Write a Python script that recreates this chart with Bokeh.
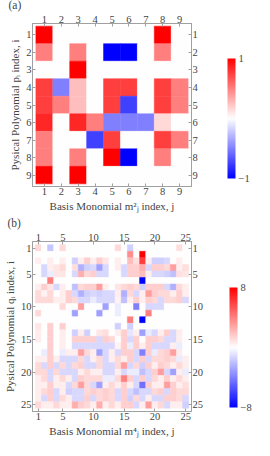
from bokeh.plotting import figure
from bokeh.models import (LinearColorMapper, ColorBar, FixedTicker, Range1d,
                          LinearAxis, Label, ColumnDataSource)
from bokeh.layouts import column
from bokeh.embed import file_html
from bokeh.resources import INLINE

# ---------------- data ----------------
ticks_a = [1, 2, 3, 4, 5, 6, 7, 8, 9]
matrix_a = [
    [1, 0, 0, 0, 0, 0, 0, 1, 0],
    [0.5, 0, 0.5, 0, -1, -1, 0, 0.5, 0],
    [0, 0, 1, 0, 0, 0, 0, 0, 0],
    [0.75, -0.5, 0.25, 0, 0.75, 0.75, 0, 0.75, 0.5],
    [0.75, 0.5, 0.25, 0, 0.75, -0.75, 0, 0.75, 0.5],
    [0.85, 0, 0.85, 0.5, -0.5, -0.5, -0.5, 0.15, 0],
    [0.5, 0, 0, -0.75, 0.75, 0, 0, 0.75, 0.5],
    [0.5, 0, 0.5, 0, 1, -1, 0, 0.5, 0],
    [1, 0, 1, 0, 0, 0, 0, 0, 0],
]

ticks_b = [1, 5, 10, 15, 20, 25]
matrix_b = [
    [1.2, 0, -1.8, 0, 1.2, 0, 0, 0, 0, 0, 0, 0, 0, 1.2, 0, -1.5, 0, 0, 0, 0, 0, 0, 0, 1.0, 0],
    [0, 0, 0, 0, 0, 0, 0, 0, 0, 0, 0, 0, 0, 0, 0, 3.5, 0, 8, 0, 0, 0, 0, 0, 0, 0],
    [0.5, 0, 0.5, 0, 0.5, 0, -1.5, 0.5, 1.5, 0.5, 1.5, 0.8, 0, 0.5, 0, 2.0, 1.0, 6.0, 0.5, -1.5, -1.5, -1.2, 0, 0.6, 0],
    [0, -1.2, 0.5, 0.8, 1.2, 0, 1.0, -2.5, -1.5, -1.2, -3.0, -1.2, 0, 0.5, -1.2, 1.5, 1.5, 2.5, -1.2, 1.5, 1.5, 1.2, 3.0, 0.5, 1.0],
    [0, -1.2, -0.6, 0.8, 0.8, 0, -1.2, 2.5, 1.2, 1.5, -1.2, -1.2, 0, 0, -1.2, 1.5, 1.5, 2.0, 0.5, -1.2, -1.2, -1.5, -2.0, 1.0, 0.8],
    [0, 0, 4.0, 0, 0, 0, 0, 0, 0, 0, 0, 0, 0, 0, 0, 0, 0, -8, 0, 0, 0, 0, 0, 0, 0],
    [0.5, 1.5, 0.8, -1.2, 0.5, 0, -2.0, 1.2, 1.5, 1.5, 3.0, 0.5, 0, 0.8, 1.2, 1.5, 1.2, -1.5, 1.5, 1.5, 1.5, -1.2, -2.5, 1.2, 0.5],
    [1.2, 0.4, 1.2, 0, 0.5, 1.5, -1.2, -2.5, -1.5, -1.2, -1.5, -1.2, -1.2, 0.5, -2.5, 1.2, -1.2, 0.5, 3.0, 1.5, 1.2, 1.2, 0.5, 1.5, 0.5],
    [1.2, 1.2, 1.2, 0.5, 0.5, 1.5, 1.2, -1.2, -1.2, -0.6, -1.2, -1.2, -1.2, 0.4, -2.0, 0.5, 1.5, 0.5, 1.5, 1.2, -1.2, 1.2, 1.2, 1.5, -1.2],
    [0, 0, 0, 0, 1.2, 0, 0, 3.0, 0, 0, 0, -3.0, 0, -0.6, 0, 0, -4.0, 0, -1.2, -1.2, -1.2, 0, 0, 0, 0],
    [1.2, 0, 0, 0, 0, 0, -3.0, 0, 0, 0, -3.0, 0, 0, -0.6, 0, 0, 0, 0, 4.0, 0, 0, 0, 0, 0, 0],
    [0, 0, 0, 0, 0, 0, 0, 0, 0, 0, 0, 0, 0, 0, 0, 4.0, 0, -8, 0, 0, 0, 0, 0, 0, 0],
    [0.8, 0, 1.5, 0, 1.5, 0, 0, 0, 0, 0, 0, 0, 0, -1.5, 0, -1.5, 0, 0, 0, 0, 0, 0, 0, 0, 0],
    [0.6, 0, 1.5, 0, 0.6, 0, -1.5, 0.5, -1.5, 0, 0.8, 1.0, 0, 0.5, 1.5, -0.8, 0.5, -3.0, -0.6, -1.2, 0.5, 1.5, -1.2, 0.6, 0],
    [0.6, 0, 1.5, 0, 0.5, 0, 1.5, 1.5, 1.5, 1.5, -1.2, 1.5, 1.2, 0, 1.5, -1.2, 1.5, 0, 1.5, 1.5, 1.2, -1.2, -1.2, 0.5, 0],
    [0, 0, 1.5, 0, 0.5, 0, -1.2, -1.2, -1.2, -1.2, -1.2, -1.2, -1.2, 0.4, 1.5, -0.6, 1.5, 0.5, 1.5, -1.2, -1.2, -1.2, 0.5, -0.6, 0],
    [0, -0.6, 1.5, 0, -0.6, 0.5, 0.5, 3.0, 1.2, 0.5, -3.0, -1.2, 0.5, -1.2, 1.5, 1.5, -1.2, -4.0, 1.5, -0.6, 1.2, 1.5, 3.0, 0.6, 0],
    [0.5, 0.5, 1.5, 0.5, -1.2, -1.2, -1.2, 1.2, -1.2, 0.5, 1.2, -1.2, 0.5, 1.2, 0.5, 1.5, -1.2, 1.5, -1.2, 1.2, 1.2, 1.5, 1.2, -0.6, 0.5],
    [1.2, -1.2, 1.5, -1.2, 1.2, -1.2, 1.2, 1.5, -1.2, -1.2, 1.2, -1.2, -1.2, 1.2, 3.0, -1.2, 1.2, -1.5, 1.5, 0.5, 1.5, 1.2, 0.5, 1.2, 0.5],
    [1.2, 1.2, -1.2, 1.2, -1.2, -1.2, -1.2, 0.5, 1.2, 0.5, 0.5, -1.2, -1.2, 0.5, -1.2, -0.6, -0.6, -2.0, -1.2, 1.5, 3.0, -1.2, -3.0, 0.5, -0.6],
    [0.5, 1.2, -1.2, 0.5, 1.2, 0.5, -1.2, 1.5, 1.2, 1.2, 1.2, -0.6, -0.6, 1.2, 4.0, 1.5, -1.2, 1.5, -1.2, 1.2, 0.5, 1.5, 0.5, 1.2, 0.5],
    [0.5, 0.5, 1.5, 0.5, 0.5, -1.2, 1.2, 3.0, 1.2, -1.2, -3.0, 0.5, 1.2, 0.5, 1.5, 0.5, -1.2, -4.5, 1.5, 0.5, 0.5, 3.0, 1.5, 0.5, 1.0],
    [0.5, 1.2, 1.5, -1.2, 0.5, -1.5, -1.2, -1.2, 1.2, 1.5, 1.2, 1.5, 1.2, -1.2, 1.5, -1.2, -2.0, -1.2, -1.2, 1.2, 1.5, -1.2, 1.5, 1.2, 1.2],
    [0.5, -1.2, 1.5, -1.2, 1.2, 0.5, -1.2, -1.2, 1.5, -1.2, 1.2, 1.5, 1.2, -1.2, 1.5, -1.5, 1.2, -1.2, 0.5, -1.2, -1.2, 1.5, 1.5, 1.2, -1.2],
    [1.2, 0.5, 0.5, 1.2, 0.5, 0.5, 2.5, 1.5, 1.2, 0.5, 2.5, 0.5, 1.2, 0.5, 1.5, 1.5, -1.2, 0.5, 3.0, 0.5, 1.2, -1.2, 0.5, 0.5, -1.5],
]

FONT = "Liberation Serif"
GRAY = "#a0a0a0"


def bwr_palette(n=256):
    pal = []
    for k in range(n):
        t = k / (n - 1) * 2 - 1
        if t < 0:
            c = int(round(255 * (1 + t)))
            pal.append("#%02x%02x%02x" % (c, c, 255))
        else:
            c = int(round(255 * (1 - t)))
            pal.append("#%02x%02x%02x" % (255, c, c))
    return pal


PAL = bwr_palette()


def style_axis(ax):
    ax.axis_line_color = GRAY
    ax.major_tick_line_color = GRAY
    ax.major_tick_in = 3
    ax.major_tick_out = 0
    ax.minor_tick_line_color = None
    ax.major_label_text_font = FONT
    ax.major_label_text_font_size = "10.5px"
    ax.major_label_standoff = 1
    ax.axis_label_text_font = FONT
    ax.axis_label_text_font_size = "11px"
    ax.axis_label_text_font_style = "normal"
    ax.axis_label_standoff = 2


def make_panel(mat, vmax, ticks, xlabel, ylabel, tag, height, borders, xr, yr,
               cb_loc, cb_standoff):
    xs, ys, vs = [], [], []
    for i, r in enumerate(mat):
        for j, v in enumerate(r):
            xs.append(j + 1)
            ys.append(i + 1)
            vs.append(v)
    src = ColumnDataSource(dict(x=xs, y=ys, v=vs))
    mapper = LinearColorMapper(palette=PAL, low=-vmax, high=vmax)
    left, right, top, bottom = borders
    p = figure(width=254, height=height, output_backend="svg",
               toolbar_location=None, x_range=Range1d(*xr),
               y_range=Range1d(*yr), x_axis_location=None,
               y_axis_location=None, min_border_left=left,
               min_border_right=right, min_border_top=top,
               min_border_bottom=bottom)
    p.grid.visible = False
    p.outline_line_color = GRAY
    p.background_fill_color = "white"
    p.rect(x="x", y="y", width=1, height=1, source=src,
           fill_color={"field": "v", "transform": mapper},
           line_color={"field": "v", "transform": mapper}, line_width=0.5)
    for loc in ("below", "above"):
        ax = LinearAxis(ticker=FixedTicker(ticks=ticks))
        if loc == "below":
            ax.axis_label = xlabel
        style_axis(ax)
        p.add_layout(ax, loc)
    for loc in ("left", "right"):
        ax = LinearAxis(ticker=FixedTicker(ticks=ticks))
        if loc == "left":
            ax.axis_label = ylabel
        style_axis(ax)
        p.add_layout(ax, loc)
    cb = ColorBar(color_mapper=mapper, ticker=FixedTicker(ticks=[-vmax, vmax]),
                  major_label_overrides={-vmax: "\u2212%d" % vmax,
                                         vmax: "%d" % vmax},
                  width=8, height=120, padding=0, margin=0,
                  label_standoff=cb_standoff,
                  major_tick_line_color=None, minor_tick_line_color=None,
                  bar_line_color=None, border_line_color=None,
                  background_fill_alpha=0, major_label_text_font=FONT,
                  major_label_text_font_size="10.5px", location=cb_loc)
    p.add_layout(cb, "right")
    lab = Label(x=-left, y=2, x_units="screen", y_units="screen", text=tag,
                text_font=FONT, text_font_size="11.5px")
    p.add_layout(lab, "above")
    return p


pa = make_panel(matrix_a, 1, ticks_a,
                "Basis Monomial m\u00b2\u2C7C index, j",
                "Pysical Polynomial p\u1D62 index, i", "(a)", 218,
                (24, 40, 13, 32), (0.3, 9.7), (9.65, 0.35), (27, 8), 3)
pb = make_panel(matrix_b, 8, ticks_b,
                "Basis Monomial m\u2074\u2C7C index, j",
                "Pysical Polynomial q\u1D62 index, i", "(b)", 222,
                (25, 40, 21, 29), (0.05, 25.95), (26.0, 0.0), (23, 4), 3)

layout = column(pa, pb, spacing=0)
open("out.html", "w").write(file_html(layout, INLINE))
